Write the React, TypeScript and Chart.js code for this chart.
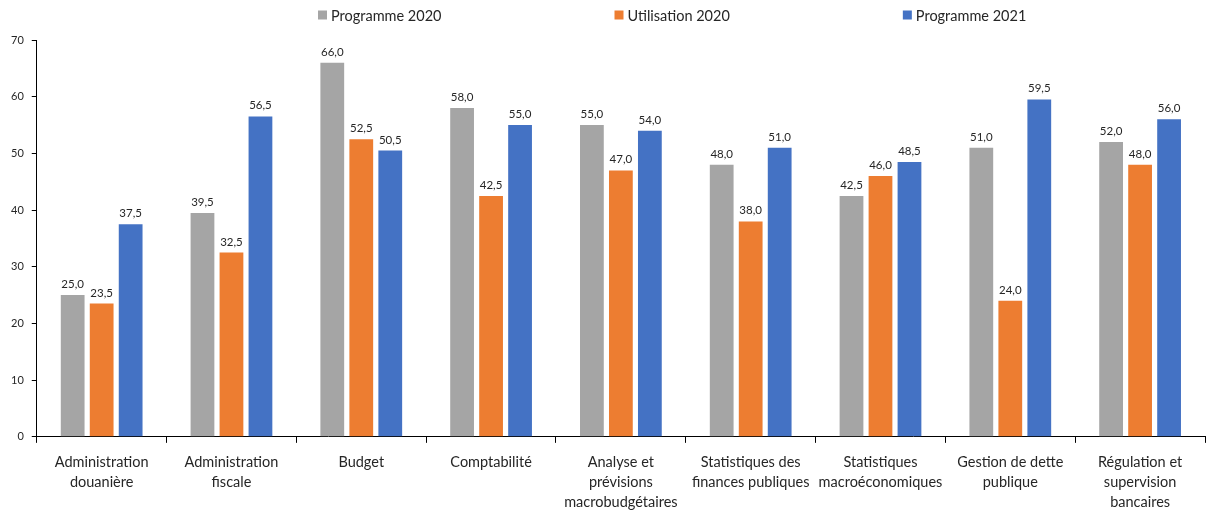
import React, { useEffect, useRef } from "react";
import { Chart, registerables } from "chart.js";

Chart.register(...registerables);

const categories: (string | string[])[] = [
  ["Administration", "douanière"],
  ["Administration", "fiscale"],
  "Budget",
  "Comptabilité",
  ["Analyse et", "prévisions", "macrobudgétaires"],
  ["Statistiques des", "finances publiques"],
  ["Statistiques", "macroéconomiques"],
  ["Gestion de dette", "publique"],
  ["Régulation et", "supervision", "bancaires"],
];

const programme2020 = [25.0, 39.5, 66.0, 58.0, 55.0, 48.0, 42.5, 51.0, 52.0];
const utilisation2020 = [23.5, 32.5, 52.5, 42.5, 47.0, 38.0, 46.0, 24.0, 48.0];
const programme2021 = [37.5, 56.5, 50.5, 55.0, 54.0, 51.0, 48.5, 59.5, 56.0];

const seriesNames = ["Programme 2020", "Utilisation 2020", "Programme 2021"];
const seriesColors = ["#A5A5A5", "#ED7D31", "#4472C4"];

const FONT = "Lato, 'Noto Sans', sans-serif";
const TEXT = "#262626";

const valueLabels = {
  id: "valueLabels",
  afterDatasetsDraw(chart: any) {
    const ctx = chart.ctx;
    ctx.save();
    ctx.font = `11.5px ${FONT}`;
    ctx.fillStyle = TEXT;
    ctx.textAlign = "center";
    ctx.textBaseline = "bottom";
    chart.data.datasets.forEach((ds: any, i: number) => {
      const meta = chart.getDatasetMeta(i);
      meta.data.forEach((bar: any, j: number) => {
        const v = ds.data[j] as number;
        ctx.fillText(v.toFixed(1).replace(".", ","), bar.x, bar.y - 5);
      });
    });
    ctx.restore();
  },
};

const customLegend = {
  id: "customLegend",
  afterDraw(chart: any) {
    const ctx = chart.ctx;
    ctx.save();
    ctx.font = `14.5px ${FONT}`;
    ctx.textBaseline = "middle";
    ctx.textAlign = "left";
    const box = 9;
    const gapBoxText = 4;
    const gapItems = 173;
    const y = 15;
    let x = 318;
    seriesNames.forEach((name, i) => {
      ctx.fillStyle = seriesColors[i];
      ctx.fillRect(x, y - box / 2, box, box);
      ctx.fillStyle = TEXT;
      ctx.fillText(name, x + box + gapBoxText, y + 1);
      x += box + gapBoxText + ctx.measureText(name).width + gapItems;
    });
    ctx.restore();
  },
};

export default function App() {
  const ref = useRef<HTMLCanvasElement | null>(null);
  useEffect(() => {
    document.body.style.margin = "0";
    const chart = new Chart(ref.current!, {
      type: "bar",
      data: {
        labels: categories,
        datasets: [
          { label: seriesNames[0], data: programme2020, backgroundColor: seriesColors[0] },
          { label: seriesNames[1], data: utilisation2020, backgroundColor: seriesColors[1] },
          { label: seriesNames[2], data: programme2021, backgroundColor: seriesColors[2] },
        ],
      },
      options: {
        animation: false,
        responsive: false,
        layout: { padding: { top: 40, left: 3, right: 2, bottom: -12 } },
        datasets: { bar: { categoryPercentage: 0.67, barPercentage: 0.82 } },
        plugins: {
          legend: { display: false },
          tooltip: { enabled: false },
        },
        scales: {
          x: {
            offset: true,
            grid: {
              offset: true,
              drawOnChartArea: false,
              drawTicks: true,
              tickLength: 6,
              color: "#000",
            },
            border: { display: true, color: "#000", width: 1 },
            ticks: {
              color: TEXT,
              font: { family: FONT, size: 14.5, lineHeight: 1.36 },
              padding: 10,
              maxRotation: 0,
              autoSkip: false,
            },
          },
          y: {
            min: 0,
            max: 70,
            grid: {
              drawOnChartArea: false,
              drawTicks: true,
              tickLength: 5,
              color: "#000",
            },
            border: { display: true, color: "#000", width: 1 },
            ticks: {
              stepSize: 10,
              color: TEXT,
              font: { family: FONT, size: 11 },
              padding: 8,
            },
          },
        },
      },
      plugins: [valueLabels, customLegend],
    });
    return () => chart.destroy();
  }, []);
  return <canvas ref={ref} width={1207} height={510} style={{ display: "block" }} />;
}
